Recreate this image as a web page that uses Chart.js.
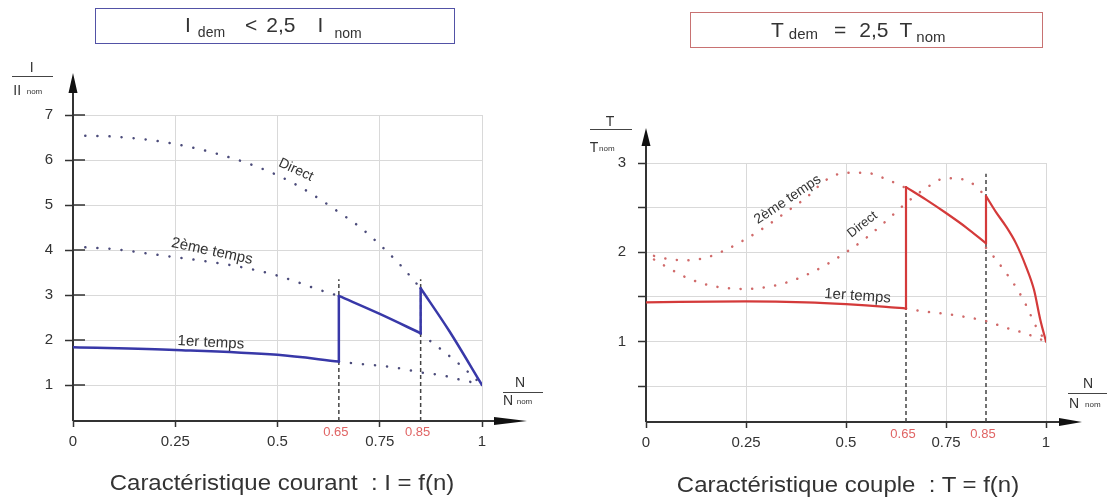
<!DOCTYPE html>
<html>
<head>
<meta charset="utf-8">
<script src="https://cdn.jsdelivr.net/npm/chart.js@4.4.1/dist/chart.umd.min.js"></script>
<style>
  html, body { margin: 0; padding: 0; background: #fff; }
  body { width: 1107px; height: 499px; position: relative; overflow: hidden;
         font-family: "Liberation Sans", Arial, sans-serif; color: #333; }
  canvas { position: absolute; top: 0; }
  .t { position: absolute; white-space: nowrap; line-height: 1; }
  .box { position: absolute; box-sizing: border-box; height: 36px; }
  .rule { position: absolute; height: 1px; background: #444; }
  .cap { position: absolute; width: 420px; text-align: center; font-size: 22px; line-height: 24px; transform: scaleX(1.09); }
</style>
</head>
<body>
<canvas id="left" width="553" height="499" style="left:0"></canvas>
<canvas id="right" width="554" height="499" style="left:553px"></canvas>

<div class="box" style="left:95px; top:8px; width:360px; border:1.5px solid #5252a6;"></div>
<div class="t" style="left:185px; top:13.9px; font-size:21px;">I<span style="font-size:14px; position:relative; top:5px; margin-left:7px;">dem</span><span style="margin-left:20px;">&lt;</span><span style="margin-left:9px;">2,5</span><span style="margin-left:22px;">I</span><span style="font-size:14px; position:relative; top:6.5px; margin-left:11px;">nom</span></div>

<div class="box" style="left:690px; top:12px; width:353px; border:1.5px solid #c87272;"></div>
<div class="t" style="left:771px; top:18.7px; font-size:21px;">T<span style="font-size:15px; position:relative; top:2px; margin-left:5px;">dem</span><span style="margin-left:16px;">=</span><span style="margin-left:13px;">2,5</span><span style="margin-left:11px;">T</span><span style="font-size:15px; position:relative; top:5px; margin-left:4px;">nom</span></div>

<div class="t" style="left:29.7px; top:59.9px; font-size:14px;">I</div>
<div class="rule" style="left:11.7px; top:75.5px; width:41.6px;"></div>
<div class="t" style="left:13.3px; top:83.2px; font-size:14px;">II</div>
<div class="t" style="left:26.7px; top:88.2px; font-size:8px;">nom</div>

<div class="t" style="left:605.7px; top:114.2px; font-size:14px;">T</div>
<div class="rule" style="left:589.7px; top:129px; width:42px;"></div>
<div class="t" style="left:589.7px; top:139.9px; font-size:14px;">T</div>
<div class="t" style="left:599px; top:144.9px; font-size:8px;">nom</div>

<div class="t" style="left:515px; top:374.9px; font-size:14px;">N</div>
<div class="rule" style="left:503px; top:391.5px; width:40px;"></div>
<div class="t" style="left:503px; top:393.2px; font-size:14px;">N</div>
<div class="t" style="left:516.7px; top:398.2px; font-size:8px;">nom</div>

<div class="t" style="left:1083px; top:376.2px; font-size:14px;">N</div>
<div class="rule" style="left:1068px; top:393px; width:39px;"></div>
<div class="t" style="left:1069px; top:396.2px; font-size:14px;">N</div>
<div class="t" style="left:1085px; top:401.2px; font-size:8px;">nom</div>

<div class="cap" style="left:72px; top:471.3px;">Caractéristique courant&nbsp; : I = f(n)</div>
<div class="cap" style="left:638px; top:473.3px;">Caractéristique couple&nbsp; : T = f(n)</div>

<script>
// shared x axis (N / N nom)
const nTicks = [0, 0.25, 0.5, 0.75, 1];
const nTickLabels = ["0", "0.25", "0.5", "0.75", "1"];
const markN = [0.65, 0.85];
const markLabels = ["0.65", "0.85"];

// courant I / I nom
const iTicks = [1, 2, 3, 4, 5, 6, 7];
const iTickLabels = ["1", "2", "3", "4", "5", "6", "7"];
const iDirectN = [0.03, 0.1, 0.2, 0.3, 0.4, 0.45, 0.5, 0.55, 0.6, 0.65, 0.7, 0.75, 0.8, 0.85];
const iDirect = [6.54, 6.52, 6.43, 6.26, 6.01, 5.85, 5.66, 5.43, 5.15, 4.84, 4.52, 4.12, 3.67, 3.15];
const i2emeN = [0.03, 0.1, 0.2, 0.3, 0.4, 0.5, 0.56, 0.6, 0.65];
const i2eme = [4.06, 4.02, 3.9, 3.78, 3.64, 3.43, 3.25, 3.12, 2.98];
const i1erRestN = [0.65, 0.7, 0.75, 0.8, 0.85, 0.9, 0.95, 1];
const i1erRest = [1.52, 1.47, 1.43, 1.37, 1.28, 1.22, 1.11, 1.02];
const i2emeRestN = [0.85, 0.9, 0.95, 1];
const i2emeRest = [2.14, 1.79, 1.42, 1.0];
const iRunN = [0, 0.25, 0.5, 0.65, 0.65, 0.75, 0.85, 0.85, 0.92, 1];
const iRun = [1.84, 1.78, 1.67, 1.52, 2.98, 2.58, 2.15, 3.15, 2.2, 1.0];
const iGuideTop = [3.35, 3.35];

// couple T / T nom
const tTicks = [0.5, 1, 1.5, 2, 2.5, 3];
const tTickLabels = ["", "1", "", "2", "", "3"];
const tDirectN = [0.02, 0.05, 0.1, 0.15, 0.2, 0.25, 0.3, 0.35, 0.4, 0.45, 0.5, 0.55, 0.6, 0.65, 0.7, 0.75, 0.8, 0.85];
const tDirect = [1.92, 1.84, 1.72, 1.64, 1.6, 1.59, 1.61, 1.66, 1.745, 1.86, 2.0, 2.16, 2.35, 2.55, 2.72, 2.83, 2.81, 2.63];
const t2emeN = [0.02, 0.05, 0.1, 0.15, 0.2, 0.25, 0.3, 0.35, 0.4, 0.45, 0.5, 0.55, 0.6, 0.65];
const t2eme = [1.96, 1.93, 1.91, 1.94, 2.03, 2.15, 2.29, 2.45, 2.61, 2.81, 2.89, 2.89, 2.82, 2.72];
const t1erRestN = [0.65, 0.7, 0.75, 0.8, 0.85, 0.9, 0.95, 1];
const t1erRest = [1.37, 1.335, 1.31, 1.275, 1.23, 1.155, 1.09, 1.0];
const t2emeRestN = [0.85, 0.875, 0.9, 0.925, 0.95, 0.975, 1];
const t2emeRest = [2.05, 1.92, 1.77, 1.61, 1.41, 1.17, 1.0];
const tRunN = [0, 0.25, 0.4, 0.5, 0.6, 0.65, 0.65, 0.7, 0.75, 0.8, 0.85, 0.85, 0.875, 0.9, 0.925, 0.95, 0.97, 0.985, 1];
const tRun = [1.44, 1.45, 1.44, 1.42, 1.39, 1.37, 2.73, 2.59, 2.44, 2.28, 2.1, 2.63, 2.45, 2.29, 2.1, 1.84, 1.58, 1.26, 1.0];
const tGuideTop = [2.73, 2.88];

// curve names, placed in data units
const iNotes = [
  { text: "Direct", n: 0.545, v: 5.78, angle: 25, size: 14 },
  { text: "2ème temps", n: 0.34, v: 3.97, angle: 12, size: 15 },
  { text: "1er temps", n: 0.337, v: 1.94, angle: 3, size: 15 },
];
const tNotes = [
  { text: "2ème temps", n: 0.354, v: 2.59, angle: -34, size: 14 },
  { text: "Direct", n: 0.541, v: 2.31, angle: -38, size: 13 },
  { text: "1er temps", n: 0.529, v: 1.51, angle: 4, size: 15 },
];

const FONT = '"Liberation Sans", Arial, sans-serif';

const deco = {
  id: "deco",
  beforeDatasetsDraw(chart, args, o) {
    const { ctx, chartArea: a, scales: { y } } = chart;
    ctx.save();
    ctx.strokeStyle = "#333";
    ctx.lineWidth = 2;
    ctx.beginPath();
    ctx.moveTo(a.left, a.bottom);
    ctx.lineTo(a.left, a.top - o.yArrow + o.yHead);
    ctx.moveTo(a.left, a.bottom);
    ctx.lineTo(a.right + o.xArrow - o.xHead, a.bottom);
    ctx.stroke();
    if (o.innerTick) {
      ctx.lineWidth = 1.5;
      ctx.beginPath();
      y.ticks.forEach((t) => {
        const py = y.getPixelForValue(t.value);
        ctx.moveTo(a.left, py);
        ctx.lineTo(a.left + o.innerTick, py);
      });
      ctx.stroke();
    }
    ctx.fillStyle = "#111";
    ctx.beginPath();
    const ty = a.top - o.yArrow;
    ctx.moveTo(a.left, ty);
    ctx.lineTo(a.left - o.yHalf, ty + o.yHead);
    ctx.lineTo(a.left + o.yHalf, ty + o.yHead);
    ctx.closePath();
    const tx = a.right + o.xArrow;
    ctx.moveTo(tx, a.bottom);
    ctx.lineTo(tx - o.xHead, a.bottom - o.xHalf);
    ctx.lineTo(tx - o.xHead, a.bottom + o.xHalf);
    ctx.closePath();
    ctx.fill();
    ctx.restore();
  },
  afterDatasetsDraw(chart, args, o) {
    const { ctx, chartArea: a, scales: { x, y } } = chart;
    ctx.save();
    ctx.textAlign = "center";
    ctx.textBaseline = "middle";
    ctx.fillStyle = o.markColor;
    ctx.font = "13px " + FONT;
    markN.forEach((n, i) => {
      ctx.fillText(markLabels[i], x.getPixelForValue(n) + o.markDx, a.bottom + o.markDy);
    });
    ctx.fillStyle = "#333";
    o.notes.forEach((nt) => {
      ctx.save();
      ctx.translate(x.getPixelForValue(nt.n), y.getPixelForValue(nt.v));
      ctx.rotate((nt.angle * Math.PI) / 180);
      ctx.font = nt.size + "px " + FONT;
      ctx.fillText(nt.text, 0, 0);
      ctx.restore();
    });
    ctx.restore();
  },
};

function pts(ns, vs) {
  return ns.map((n, i) => ({ x: n, y: vs[i] }));
}

// cut the operating curve into smooth pieces and the vertical switch jumps
function pieces(ns, vs) {
  const out = [];
  let cur = [{ x: ns[0], y: vs[0] }];
  for (let i = 1; i < ns.length; i++) {
    const p = { x: ns[i], y: vs[i] };
    if (ns[i] === ns[i - 1]) {
      out.push(cur);
      out.push([cur[cur.length - 1], p]);
      cur = [p];
    } else {
      cur.push(p);
    }
  }
  out.push(cur);
  return out;
}

function panel(id, o) {
  return new Chart(document.getElementById(id), {
    type: "line",
    data: { datasets: o.datasets },
    options: {
      responsive: false,
      animation: false,
      layout: { padding: { top: o.top, right: o.right, left: 0, bottom: 0 } },
      elements: { point: { radius: 0 } },
      plugins: { legend: { display: false }, tooltip: { enabled: false }, deco: o.deco },
      scales: {
        x: {
          type: "linear",
          min: 0,
          max: 1,
          afterBuildTicks: (s) => { s.ticks = nTicks.map((v) => ({ value: v })); },
          afterFit: (s) => { s.height = o.xHeight; },
          ticks: {
            autoSkip: false,
            maxRotation: 0,
            padding: 6,
            color: "#333",
            font: { family: FONT, size: 15 },
            callback: (v, i) => nTickLabels[i],
          },
          grid: { color: "#d9d9d9", lineWidth: 1, tickLength: 6, tickColor: "#333", tickWidth: 1.5 },
          border: { display: false },
        },
        y: {
          type: "linear",
          min: o.min,
          max: o.max,
          afterBuildTicks: (s) => { s.ticks = o.yTicks.map((v) => ({ value: v })); },
          afterFit: (s) => { s.width = o.yWidth; },
          ticks: {
            autoSkip: false,
            padding: 12,
            color: "#333",
            font: { family: FONT, size: 15 },
            callback: (v, i) => o.yLabels[i],
          },
          grid: { color: "#d9d9d9", lineWidth: 1, tickLength: 8, tickColor: "#333", tickWidth: 1.5 },
          border: { display: false },
        },
      },
    },
    plugins: [deco],
  });
}

const blueDots = { borderColor: "#4b4b7a", borderWidth: 2.5, borderDash: [0.1, 12], borderCapStyle: "round", cubicInterpolationMode: "monotone", order: 2 };
const redDots = { borderColor: "#d06a6a", borderWidth: 2.5, borderDash: [0.1, 11.5], borderCapStyle: "round", cubicInterpolationMode: "monotone", order: 2 };
const guide = { borderColor: "#444", borderWidth: 1.5, borderDash: [4, 3], order: 3 };

function runSets(ns, vs, color, width) {
  return pieces(ns, vs).map((d) => ({
    data: d, borderColor: color, borderWidth: width, borderCapStyle: "round",
    cubicInterpolationMode: "monotone", order: 0,
  }));
}

panel("left", {
  top: 115, right: 71, xHeight: 78, yWidth: 73,
  min: 0.2, max: 7, yTicks: iTicks, yLabels: iTickLabels,
  deco: { yArrow: 42, yHead: 20, yHalf: 4.5, xArrow: 45, xHead: 33, xHalf: 4, innerTick: 12,
          markColor: "#e06464", markDx: -3, markDy: 11, notes: iNotes },
  datasets: [
    ...runSets(iRunN, iRun, "#3838a8", 2.5),
    Object.assign({ data: pts(iDirectN, iDirect) }, blueDots),
    Object.assign({ data: pts(i2emeN, i2eme) }, blueDots),
    Object.assign({ data: pts(i1erRestN, i1erRest) }, blueDots),
    Object.assign({ data: pts(i2emeRestN, i2emeRest) }, blueDots),
    Object.assign({ data: pts([markN[0], markN[0]], [0.2, iGuideTop[0]]) }, guide),
    Object.assign({ data: pts([markN[1], markN[1]], [0.2, iGuideTop[1]]) }, guide),
  ],
});

panel("right", {
  top: 163, right: 61, xHeight: 77, yWidth: 93,
  min: 0.1, max: 3, yTicks: tTicks, yLabels: tTickLabels,
  deco: { yArrow: 35, yHead: 18, yHalf: 4.5, xArrow: 36, xHead: 23, xHalf: 4, innerTick: 0,
          markColor: "#e06464", markDx: -3, markDy: 12.5, notes: tNotes },
  datasets: [
    ...runSets(tRunN, tRun, "#d43a3a", 2.2),
    Object.assign({ data: pts(tDirectN, tDirect) }, redDots),
    Object.assign({ data: pts(t2emeN, t2eme) }, redDots),
    Object.assign({ data: pts(t1erRestN, t1erRest) }, redDots),
    Object.assign({ data: pts(t2emeRestN, t2emeRest) }, redDots),
    Object.assign({ data: pts([markN[0], markN[0]], [0.1, tGuideTop[0]]) }, guide),
    Object.assign({ data: pts([markN[1], markN[1]], [0.1, tGuideTop[1]]) }, guide),
  ],
});
</script>
</body>
</html>
